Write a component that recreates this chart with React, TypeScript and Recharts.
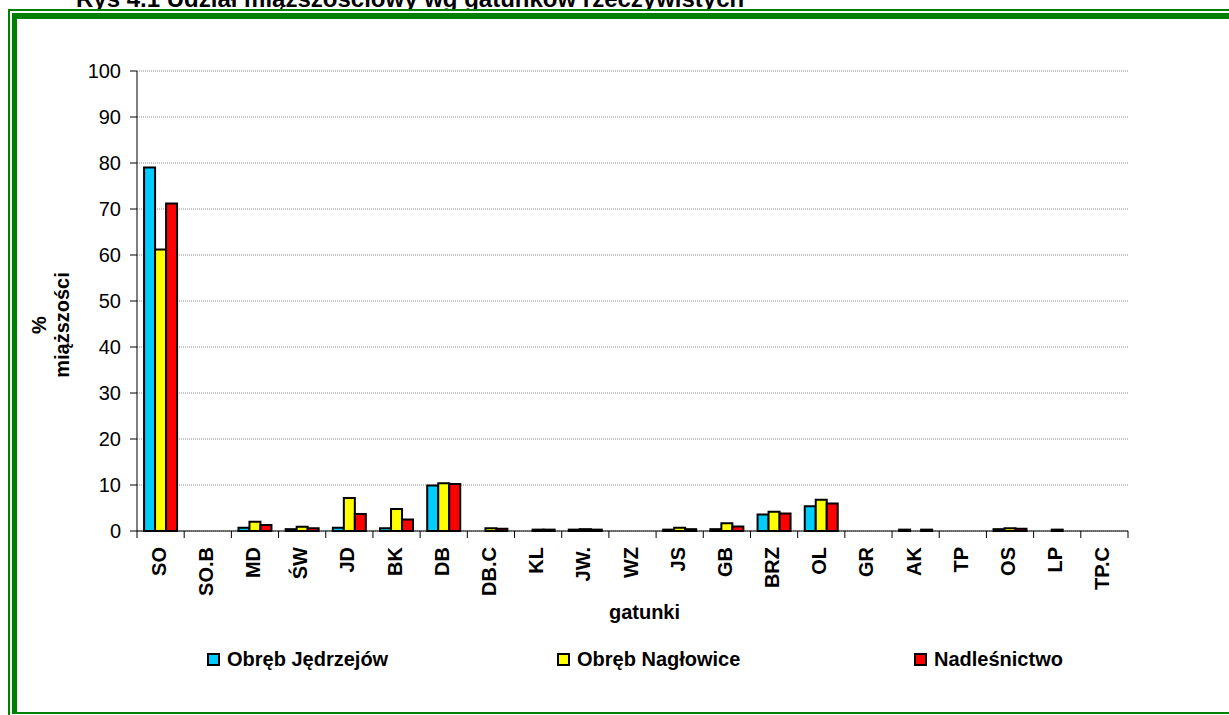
import React from "react";
import { Bar, BarChart, CartesianGrid, Label, XAxis, YAxis } from "recharts";

const SPECIES = ["SO", "SO.B", "MD", "ŚW", "JD", "BK", "DB", "DB.C", "KL", "JW.", "WZ", "JS", "GB", "BRZ", "OL", "GR", "AK", "TP", "OS", "LP", "TP.C"];

const JEDRZEJOW = [79.0, 0, 0.7, 0.4, 0.7, 0.6, 9.9, 0, 0, 0.3, 0, 0.3, 0.4, 3.6, 5.4, 0, 0.3, 0, 0.4, 0, 0];
const NAGLOWICE = [61.2, 0, 2.0, 0.9, 7.2, 4.8, 10.4, 0.6, 0.3, 0.4, 0, 0.7, 1.7, 4.2, 6.8, 0, 0, 0, 0.6, 0.3, 0];
const NADLESNICTWO = [71.2, 0, 1.3, 0.6, 3.7, 2.5, 10.2, 0.5, 0.3, 0.3, 0, 0.4, 1.0, 3.8, 6.0, 0, 0.3, 0, 0.5, 0, 0];

const SERIES_KEYS = ["jedrzejow", "naglowice", "nadlesnictwo"];
const SERIES_NAMES = ["Obręb Jędrzejów", "Obręb Nagłowice", "Nadleśnictwo"];
const SERIES_COLORS = ["#00CCFF", "#FFFF00", "#FF0000"];

const Y_TICKS = [0, 10, 20, 30, 40, 50, 60, 70, 80, 90, 100];

const TITLE = "Rys 4.1 Udział miąższościowy wg gatunków rzeczywistych";
const FONT = "'Liberation Sans', Arial, sans-serif";
const GREEN = "#008000";

const data = SPECIES.map((name, i) => ({
  name,
  jedrzejow: JEDRZEJOW[i],
  naglowice: NAGLOWICE[i],
  nadlesnictwo: NADLESNICTWO[i],
}));

// category ticks sit on the boundaries between groups, labels turned upright
const SpeciesTick = (props: any) => {
  const { x, y, payload, index, width, visibleTicksCount } = props;
  const half = payload.offset ?? width / visibleTicksCount / 2;
  const last = index === visibleTicksCount - 1;
  const lx = x + 5;
  const ly = y + 16;
  return (
    <g>
      <line x1={x - half} x2={x - half} y1={y} y2={y + 7} stroke="#000" />
      {last && <line x1={x + half} x2={x + half} y1={y} y2={y + 7} stroke="#000" />}
      <text
        x={lx}
        y={ly}
        transform={`rotate(-90, ${lx}, ${ly})`}
        textAnchor="end"
        fontFamily={FONT}
        fontWeight="bold"
        fontSize={20}
        fill="#000"
      >
        {payload.value}
      </text>
    </g>
  );
};

const YTitle = ({ viewBox }: any) => {
  const cy = viewBox.y + viewBox.height / 2 + 24;
  const x1 = viewBox.x - 31;
  const x2 = viewBox.x - 8;
  return (
    <g fontFamily={FONT} fontWeight="bold" fontSize={20} fill="#000">
      <text x={x1} y={cy} textAnchor="middle" transform={`rotate(-90, ${x1}, ${cy})`}>
        %
      </text>
      <text x={x2} y={cy} textAnchor="middle" transform={`rotate(-90, ${x2}, ${cy})`}>
        miąższości
      </text>
    </g>
  );
};

const XTitle = ({ viewBox }: any) => (
  <text
    x={viewBox.x + viewBox.width / 2 + 12}
    y={viewBox.y + 88}
    textAnchor="middle"
    fontFamily={FONT}
    fontWeight="bold"
    fontSize={20}
    fill="#000"
  >
    gatunki
  </text>
);

const LEGEND_LEFT = [207, 557, 914];

export default function App() {
  return (
    <div
      style={{
        position: "absolute",
        left: 0,
        top: 0,
        width: 1229,
        height: 715,
        overflow: "hidden",
        background: "#fff",
        fontFamily: FONT,
      }}
    >
      <div
        style={{
          position: "absolute",
          left: 76,
          top: -13,
          lineHeight: "24px",
          fontSize: 24,
          fontWeight: "bold",
          whiteSpace: "nowrap",
          color: "#000",
        }}
      >
        {TITLE}
      </div>
      <div
        style={{
          position: "absolute",
          left: 8,
          top: 9,
          width: 1400,
          height: 800,
          background: "#fff",
          borderLeft: `2px solid ${GREEN}`,
          borderTop: `2px solid ${GREEN}`,
        }}
      />
      <div
        style={{
          position: "absolute",
          left: 12,
          top: 13,
          width: 1400,
          height: 701,
          boxSizing: "border-box",
          borderLeft: `5px solid ${GREEN}`,
          borderTop: `6px solid ${GREEN}`,
          borderBottom: `2px solid ${GREEN}`,
        }}
      />
      <div style={{ position: "absolute", left: 0, top: 0 }}>
        <BarChart
          width={1229}
          height={715}
          data={data}
          margin={{ top: 71, right: 101, left: 77, bottom: 114 }}
          barGap={0}
          barCategoryGap="15%"
        >
          <CartesianGrid vertical={false} stroke="#8c8c8c" strokeDasharray="1 1" />
          <XAxis
            dataKey="name"
            interval={0}
            height={70}
            tickLine={false}
            tickSize={0}
            tickMargin={0}
            axisLine={{ stroke: "#000" }}
            tick={<SpeciesTick />}
          >
            <Label content={<XTitle />} />
          </XAxis>
          <YAxis
            domain={[0, 100]}
            ticks={Y_TICKS}
            width={60}
            tickSize={7}
            tickMargin={9}
            axisLine={{ stroke: "#000" }}
            tickLine={{ stroke: "#000" }}
            tick={{ fill: "#000", fontSize: 20, fontFamily: FONT }}
          >
            <Label content={<YTitle />} />
          </YAxis>
          {SERIES_KEYS.map((k, i) => (
            <Bar
              key={k}
              dataKey={k}
              name={SERIES_NAMES[i]}
              fill={SERIES_COLORS[i]}
              stroke="#000"
              strokeWidth={2}
              isAnimationActive={false}
            />
          ))}
        </BarChart>
      </div>
      {SERIES_NAMES.map((n, i) => (
        <div
          key={n}
          style={{
            position: "absolute",
            left: LEGEND_LEFT[i],
            top: 648,
            height: 22,
            display: "flex",
            alignItems: "center",
            fontSize: 20,
            fontWeight: "bold",
            color: "#000",
            whiteSpace: "nowrap",
          }}
        >
          <span
            style={{
              display: "inline-block",
              width: 9,
              height: 9,
              border: "2px solid #000",
              background: SERIES_COLORS[i],
              marginRight: 7,
            }}
          />
          {n}
        </div>
      ))}
    </div>
  );
}
